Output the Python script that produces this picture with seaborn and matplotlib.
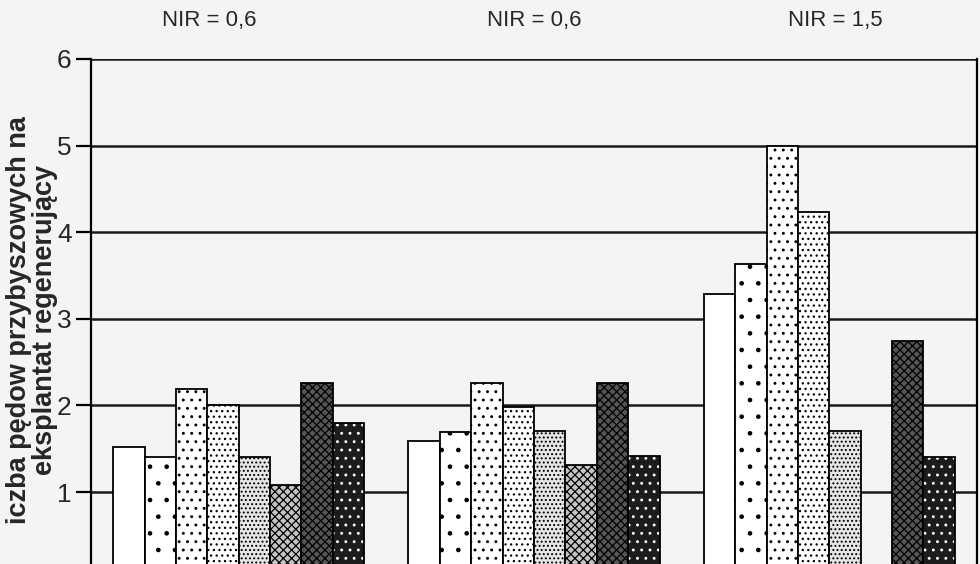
import matplotlib
matplotlib.use("Agg")
import matplotlib.pyplot as plt
import seaborn as sns
import pandas as pd
import numpy as np

# ---- data ----
groups = ["A", "B", "C"]
nir_labels = ["NIR = 0,6", "NIR = 0,6", "NIR = 1,5"]
treatments = ["t1", "t2", "t3", "t4", "t5", "t6", "t7", "t8"]
vals_g1 = [1.52, 1.40, 2.19, 2.00, 1.40, 1.08, 2.26, 1.80]
vals_g2 = [1.59, 1.69, 2.26, 1.98, 1.70, 1.31, 2.26, 1.42]
vals_g3 = [3.29, 3.63, 5.00, 4.23, 1.70, np.nan, 2.74, 1.41]
yticks = [1, 2, 3, 4, 5, 6]
ylabel = "iczba pędow przybyszowych na\neksplantat regenerujący"

rows = []
for g, vals in zip(groups, [vals_g1, vals_g2, vals_g3]):
    for t, v in zip(treatments, vals):
        rows.append({"group": g, "treat": t, "value": v})
df = pd.DataFrame(rows)

# ---- style ----
bg = "#f4f4f2"
faces = ["#ffffff", "#ffffff", "#ffffff", "#ffffff", "#e6e6e6", "#c4c4c4", "#555555", "#1c1c1c"]
hatches = [None, ".", "..", "...", "....", "xxxx", "xxxx", ".."]
hatch_cols = ["k", "k", "k", "k", "k", "k", "k", "w"]
label_offsets = [-0.1, 0.0, 0.02]

sns.set_style("white")
plt.rcParams["font.family"] = ["Liberation Sans Narrow", "Liberation Sans", "DejaVu Sans"]
plt.rcParams["hatch.linewidth"] = 0.9

fig = plt.figure(figsize=(9.8, 5.64), dpi=100, facecolor=bg)
ax = fig.add_axes([91 / 980, 0.0, (977 - 91) / 980, 1 - 59 / 564])
ax.set_facecolor(bg)

sns.barplot(data=df, x="group", y="value", hue="treat", order=groups,
            hue_order=treatments, width=0.85, gap=0, legend=False,
            edgecolor="black", linewidth=1.3, ax=ax, zorder=3, errorbar=None)

for i, cont in enumerate(ax.containers):
    for p in cont.patches:
        p.set_facecolor(faces[i])
        p.set_edgecolor("black")
        p.set_linewidth(1.3)
        if hatches[i]:
            p.set_hatch(hatches[i])
            try:
                p.set_hatchcolor(hatch_cols[i])
            except Exception:
                p._hatch_color = matplotlib.colors.to_rgba(hatch_cols[i])

ax.set_ylim(0.17, 6)
ax.set_xlim(-0.5, 2.5)
ax.set_yticks(yticks)
ax.set_yticklabels([str(t) for t in yticks], fontsize=19)
ax.tick_params(axis="y", length=11, width=1.6, color="black", pad=3, left=True)
ax.tick_params(axis="x", bottom=False, labelbottom=False)
for yv in yticks:
    ax.axhline(yv, color="#1a1a1a", lw=1.8, zorder=1)
ax.set_xlabel("")
ax.set_ylabel(ylabel, fontsize=19.5, fontweight="bold",
              family=["Liberation Sans", "DejaVu Sans"], linespacing=1.0)
ax.yaxis.set_label_coords(-0.037, 0.483)

for s in ["left", "right"]:
    ax.spines[s].set_visible(True)
    ax.spines[s].set_color("black")
    ax.spines[s].set_linewidth(1.6)
ax.spines["top"].set_visible(False)
ax.spines["bottom"].set_visible(False)

for i, lab in enumerate(nir_labels):
    ax.text(i + label_offsets[i], 6.45, lab, ha="center", va="center",
            fontsize=16, clip_on=False)

fig.savefig("out.png", dpi=100, facecolor=bg)
